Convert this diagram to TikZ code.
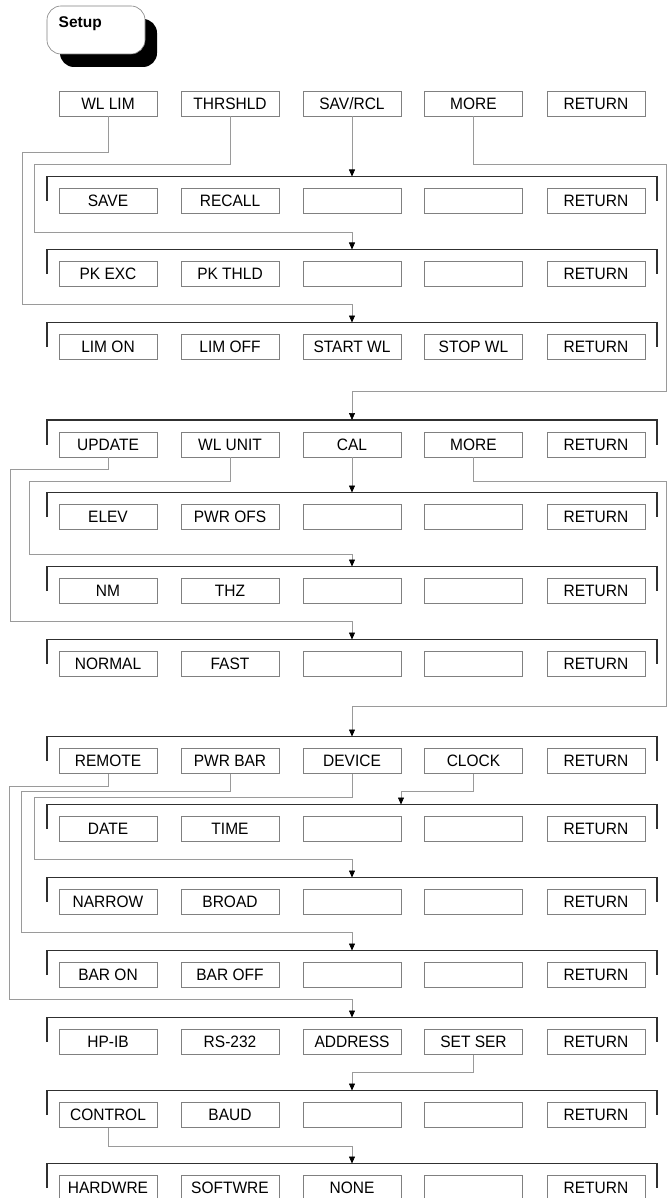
\documentclass[tikz,border=0pt]{standalone}
\usepackage{fontspec}
\setmainfont{Liberation Sans}
\newfontfamily\keyfont[FakeStretch=0.94]{Liberation Sans}
\usetikzlibrary{arrows.meta}
\definecolor{boxgray}{HTML}{808080}
\definecolor{linegray}{HTML}{9A9A9A}
\definecolor{brk}{HTML}{303030}
\newcommand\keyrow[7]{%
  \node[key] (#1c1) at (108,#2) {#3};
  \node[key] (#1c2) at (230,#2) {#4};
  \node[key] (#1c3) at (352,#2) {#5};
  \node[key] (#1c4) at (473.5,#2) {#6};
  \node[key] (#1c5) at (596,#2) {#7};
}
\newcommand\brackrow[2]{%
  \draw[brack] (47,#2) -- (47,#2-24.5) -- (657,#2-24.5) -- (657,#2);
  \coordinate (#1t) at (352,#2-24.5);
}
\begin{document}
\begin{tikzpicture}[x=1pt,y=-1pt,
  key/.style={draw=boxgray, line width=0.6pt, minimum width=98pt, minimum height=25pt, inner sep=0pt, font=\keyfont\fontsize{16.5}{18}\selectfont},
  conn/.style={draw=linegray, line width=0.7pt},
  arr/.style={conn, -{Triangle[length=7pt,width=6pt,color=black]}},
  brack/.style={draw=brk, line width=1.1pt},
  setupbox/.style={draw=boxgray, fill=white, line width=0.6pt, rounded corners=14pt, minimum width=98pt, minimum height=48pt, inner sep=0pt},
  shadowbox/.style={fill=black, rounded corners=14pt, minimum width=97pt, minimum height=48pt, inner sep=0pt}]
\useasboundingbox (0,0) rectangle (669,1198);

% Setup button
\node[shadowbox] (setupshadow) at (108.5,43) {};
\node[setupbox] (setup) at (96,30) {};
\node[anchor=west, inner sep=0pt, font=\fontsize{15.5}{18}\selectfont\bfseries] (setuplbl) at (58.5,23.5) {Setup};

% rows
\keyrow{r0}{103.5}{WL LIM}{THRSHLD}{SAV/RCL}{MORE}{RETURN}
\keyrow{r1}{201}{SAVE}{RECALL}{}{}{RETURN}
\keyrow{r2}{274}{PK EXC}{PK THLD}{}{}{RETURN}
\keyrow{r3}{347}{LIM ON}{LIM OFF}{START WL}{STOP WL}{RETURN}
\keyrow{r4}{444.5}{UPDATE}{WL UNIT}{CAL}{MORE}{RETURN}
\keyrow{r5}{517}{ELEV}{PWR OFS}{}{}{RETURN}
\keyrow{r6}{591}{NM}{THZ}{}{}{RETURN}
\keyrow{r7}{664}{NORMAL}{FAST}{}{}{RETURN}
\keyrow{r8}{761}{REMOTE}{PWR BAR}{DEVICE}{CLOCK}{RETURN}
\keyrow{r9}{829}{DATE}{TIME}{}{}{RETURN}
\keyrow{r10}{902}{NARROW}{BROAD}{}{}{RETURN}
\keyrow{r11}{975}{BAR ON}{BAR OFF}{}{}{RETURN}
\keyrow{r12}{1042}{HP-IB}{RS-232}{ADDRESS}{SET SER}{RETURN}
\keyrow{r13}{1115}{CONTROL}{BAUD}{}{}{RETURN}
\keyrow{r14}{1188}{HARDWRE}{SOFTWRE}{NONE}{}{RETURN}

\brackrow{r1}{201}
\brackrow{r2}{274}
\brackrow{r3}{347}
\brackrow{r4}{444.5}
\brackrow{r5}{517}
\brackrow{r6}{591}
\brackrow{r7}{664}
\brackrow{r8}{761}
\brackrow{r9}{829}
\brackrow{r10}{902}
\brackrow{r11}{975}
\brackrow{r12}{1042}
\brackrow{r13}{1115}
\brackrow{r14}{1188}
\coordinate (r9a) at (401,804.5);

% connectors from top row
\draw[arr] (r0c1.south) |- (22.6,152) -- (22.6,304) -| (r3t);
\draw[arr] (r0c2.south) |- (34,164) -- (34,232) -| (r2t);
\draw[arr] (r0c3.south) -- (r1t);
\draw[arr] (r0c4.south) |- (666,164) -- (666,391) -| (r4t);

% connectors from UPDATE row
\draw[arr] (r4c1.south) |- (10.7,469) -- (10.7,621.7) -| (r7t);
\draw[arr] (r4c2.south) |- (29,481.7) -- (29,554) -| (r6t);
\draw[arr] (r4c3.south) -- (r5t);
\draw[arr] (r4c4.south) |- (666,481.7) -- (666,706.7) -| (r8t);

% connectors from REMOTE row
\draw[arr] (r8c1.south) |- (9.4,786.7) -- (9.4,999) -| (r12t);
\draw[arr] (r8c2.south) |- (21.3,791.7) -- (21.3,932.7) -| (r11t);
\draw[arr] (r8c3.south) |- (34,797.3) -- (34,859) -| (r10t);
\draw[arr] (r8c4.south) |- (401,791.7) -- (r9a);

% lower connectors
\draw[arr] (r12c4.south) |- (352,1072) -- (r13t);
\draw[arr] (r13c1.south) |- (352,1146) -- (r14t);
\end{tikzpicture}
\end{document}
